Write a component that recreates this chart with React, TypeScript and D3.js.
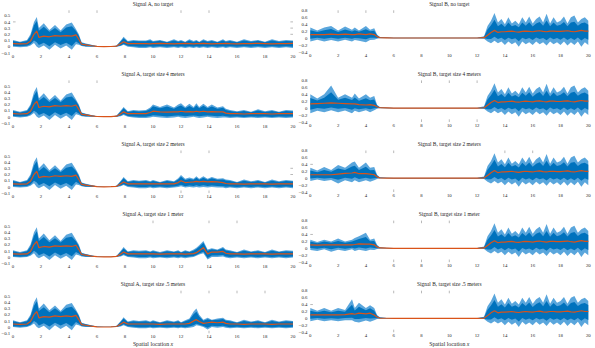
import React from "react";
import * as d3 from "d3";

const W = 595;
const H = 348;

const X_TICKS = [0, 2, 4, 6, 8, 10, 12, 14, 16, 18, 20];
const A_Y_TICKS = [-0.1, 0, 0.1, 0.2, 0.3, 0.4, 0.5];
const B_Y_TICKS = [-0.4, -0.2, 0, 0.2, 0.4, 0.6, 0.8];

const TITLES_A = [
  "Signal A, no target",
  "Signal A, target size 4 meters",
  "Signal A, target size 2 meters",
  "Signal A, target size 1 meter",
  "Signal A, target size .5 meters",
];
const TITLES_B = [
  "Signal B, no target",
  "Signal B, target size 4 meters",
  "Signal B, target size 2 meters",
  "Signal B, target size 1 meter",
  "Signal B, target size .5 meters",
];

// ---- Signal A: shared start (0..9 m)
const A_X_HEAD = [0, 0.5, 1, 1.25, 1.5, 1.7, 1.85, 2.2, 2.6, 3, 3.4, 3.8, 4.2, 4.5, 4.7, 4.9, 5.2, 5.6, 6, 6.5, 7, 7.4, 7.7, 7.9, 8.2, 8.6, 9];
const A_MEAN_HEAD = [0.05, 0.045, 0.05, 0.09, 0.2, 0.25, 0.15, 0.17, 0.16, 0.18, 0.17, 0.18, 0.17, 0.19, 0.12, 0.04, 0.03, 0.015, 0.005, 0.002, 0.003, 0.01, 0.05, 0.08, 0.05, 0.05, 0.05];
const A_HI_HEAD = [0.11, 0.08, 0.11, 0.2, 0.4, 0.48, 0.3, 0.38, 0.27, 0.35, 0.26, 0.36, 0.39, 0.28, 0.2, 0.07, 0.05, 0.03, 0.01, 0.005, 0.005, 0.02, 0.1, 0.16, 0.09, 0.11, 0.1];
const A_LO_HEAD = [0, -0.01, 0, 0.02, 0.06, 0, -0.02, 0.02, -0.05, 0.03, -0.03, 0.02, -0.05, 0.04, 0.03, 0.01, 0, 0, 0, 0, 0, 0, 0.01, 0.03, 0, -0.01, -0.02];

// ---- Signal A: target region (9.5..20 m)
const A_X_TAIL = [9.5, 9.8, 10, 10.5, 11, 11.5, 11.8, 12, 12.3, 12.6, 12.9, 13.1, 13.3, 13.6, 13.9, 14.2, 14.6, 15, 15.2, 15.5, 16, 16.5, 17, 17.5, 18, 18.5, 19, 19.5, 20];

const A0_MEAN_TAIL = [0.05, 0.045, 0.05, 0.055, 0.05, 0.045, 0.05, 0.05, 0.055, 0.05, 0.045, 0.05, 0.05, 0.055, 0.05, 0.045, 0.05, 0.05, 0.055, 0.05, 0.045, 0.05, 0.05, 0.055, 0.05, 0.045, 0.05, 0.05, 0.055];
const A0_HI_TAIL = [0.1, 0.12, 0.09, 0.11, 0.08, 0.12, 0.09, 0.11, 0.08, 0.12, 0.09, 0.11, 0.08, 0.12, 0.09, 0.11, 0.08, 0.12, 0.09, 0.11, 0.08, 0.12, 0.09, 0.11, 0.08, 0.12, 0.09, 0.11, 0.1];
const A0_LO_TAIL = [-0.02, -0.01, -0.02, -0.01, -0.02, -0.01, -0.02, -0.01, -0.02, -0.01, -0.02, -0.01, -0.02, -0.01, -0.02, -0.01, -0.02, -0.01, -0.02, -0.01, -0.02, -0.01, -0.02, -0.01, -0.02, -0.01, -0.02, -0.01, -0.02];

const A1_MEAN_TAIL = [0.05, 0.07, 0.09, 0.08, 0.075, 0.08, 0.08, 0.09, 0.08, 0.085, 0.08, 0.09, 0.08, 0.09, 0.08, 0.085, 0.08, 0.08, 0.06, 0.05, 0.05, 0.045, 0.05, 0.05, 0.05, 0.045, 0.05, 0.05, 0.05];
const A1_HI_TAIL = [0.11, 0.15, 0.2, 0.16, 0.2, 0.15, 0.2, 0.22, 0.16, 0.21, 0.16, 0.22, 0.16, 0.21, 0.16, 0.2, 0.15, 0.17, 0.13, 0.11, 0.09, 0.11, 0.08, 0.12, 0.09, 0.11, 0.08, 0.11, 0.1];
const A1_LO_TAIL = [-0.02, -0.01, 0, -0.01, -0.02, -0.01, 0, -0.01, -0.02, -0.01, 0, -0.01, -0.02, -0.01, 0, -0.01, -0.02, -0.01, -0.01, -0.02, -0.01, -0.02, -0.01, -0.02, -0.01, -0.02, -0.01, -0.02, -0.01];

const A2_MEAN_TAIL = [0.05, 0.05, 0.05, 0.05, 0.05, 0.05, 0.07, 0.1, 0.07, 0.075, 0.08, 0.09, 0.08, 0.09, 0.08, 0.085, 0.08, 0.07, 0.055, 0.05, 0.05, 0.045, 0.05, 0.05, 0.05, 0.045, 0.05, 0.05, 0.05];
const A2_HI_TAIL = [0.11, 0.09, 0.11, 0.08, 0.11, 0.09, 0.14, 0.19, 0.13, 0.15, 0.13, 0.17, 0.13, 0.17, 0.13, 0.16, 0.13, 0.14, 0.12, 0.11, 0.08, 0.12, 0.09, 0.11, 0.08, 0.12, 0.09, 0.11, 0.1];
const A2_LO_TAIL = [-0.02, -0.01, -0.02, -0.01, -0.02, -0.01, 0, 0.01, -0.01, 0, -0.01, 0, -0.01, 0, -0.01, 0, -0.01, -0.01, -0.02, -0.01, -0.02, -0.01, -0.02, -0.01, -0.02, -0.01, -0.02, -0.01, -0.02];

const A3_MEAN_TAIL = [0.05, 0.05, 0.05, 0.045, 0.05, 0.05, 0.05, 0.05, 0.045, 0.05, 0.055, 0.07, 0.1, 0.15, 0.05, 0.08, 0.08, 0.09, 0.06, 0.05, 0.05, 0.045, 0.05, 0.05, 0.05, 0.045, 0.05, 0.05, 0.05];
const A3_HI_TAIL = [0.11, 0.09, 0.11, 0.08, 0.11, 0.09, 0.11, 0.08, 0.11, 0.09, 0.12, 0.15, 0.19, 0.26, 0.12, 0.14, 0.12, 0.16, 0.12, 0.11, 0.08, 0.12, 0.09, 0.11, 0.08, 0.12, 0.09, 0.11, 0.1];
const A3_LO_TAIL = [-0.02, -0.01, -0.02, -0.01, -0.02, -0.01, -0.02, -0.01, -0.02, -0.01, 0, 0.02, 0.04, 0.06, -0.04, 0, 0, 0.01, -0.01, -0.02, -0.01, -0.02, -0.01, -0.02, -0.01, -0.02, -0.01, -0.02, -0.01];

const A4_MEAN_TAIL = [0.05, 0.05, 0.05, 0.045, 0.05, 0.05, 0.05, 0.05, 0.05, 0.06, 0.1, 0.12, 0.09, 0.06, 0.07, 0.08, 0.07, 0.08, 0.06, 0.05, 0.05, 0.045, 0.05, 0.05, 0.05, 0.045, 0.05, 0.05, 0.05];
const A4_HI_TAIL = [0.11, 0.09, 0.11, 0.08, 0.11, 0.09, 0.11, 0.08, 0.11, 0.14, 0.25, 0.3, 0.2, 0.12, 0.15, 0.12, 0.14, 0.15, 0.12, 0.11, 0.08, 0.12, 0.09, 0.11, 0.08, 0.12, 0.09, 0.11, 0.1];
const A4_LO_TAIL = [-0.02, -0.01, -0.02, -0.01, -0.02, -0.01, -0.02, -0.01, -0.02, -0.01, 0, 0.03, 0.02, 0, -0.04, 0, -0.01, 0, -0.01, -0.02, -0.01, -0.02, -0.01, -0.02, -0.01, -0.02, -0.01, -0.02, -0.01];

// ---- Signal B: first segment (0..5 m), per panel
const B_X_HEAD = [0, 0.5, 1, 1.5, 2, 2.5, 3, 3.2, 3.5, 4, 4.3, 4.6, 4.8, 5];
const B0_MEAN_HEAD = [0.1, 0.1, 0.1, 0.11, 0.1, 0.11, 0.1, 0.1, 0.12, 0.1, 0.12, 0.1, 0.04, 0.01];
const B0_HI_HEAD = [0.3, 0.22, 0.3, 0.35, 0.22, 0.33, 0.24, 0.3, 0.22, 0.35, 0.24, 0.28, 0.1, 0.03];
const B0_LO_HEAD = [-0.1, -0.05, -0.1, -0.06, -0.1, -0.05, -0.1, -0.06, -0.08, -0.12, -0.06, -0.05, -0.02, -0.005];
const B1_MEAN_HEAD = [0.12, 0.13, 0.14, 0.15, 0.14, 0.13, 0.12, 0.12, 0.1, 0.09, 0.1, 0.08, 0.04, 0.01];
const B1_HI_HEAD = [0.4, 0.28, 0.4, 0.65, 0.3, 0.4, 0.3, 0.42, 0.28, 0.4, 0.3, 0.35, 0.1, 0.03];
const B1_LO_HEAD = [-0.15, -0.08, -0.12, -0.06, -0.12, -0.07, -0.15, -0.08, -0.12, -0.06, -0.12, -0.06, -0.02, -0.005];
const B2_MEAN_HEAD = [0.1, 0.1, 0.1, 0.1, 0.12, 0.14, 0.15, 0.17, 0.13, 0.13, 0.12, 0.1, 0.04, 0.01];
const B2_HI_HEAD = [0.3, 0.22, 0.32, 0.24, 0.38, 0.3, 0.45, 0.48, 0.3, 0.45, 0.3, 0.32, 0.1, 0.03];
const B2_LO_HEAD = [-0.08, -0.04, -0.08, -0.05, -0.15, -0.06, -0.12, -0.06, -0.12, -0.06, -0.1, -0.06, -0.02, -0.005];
const B3_MEAN_HEAD = [0.1, 0.09, 0.1, 0.1, 0.1, 0.1, 0.1, 0.11, 0.13, 0.12, 0.12, 0.1, 0.04, 0.01];
const B3_HI_HEAD = [0.25, 0.18, 0.25, 0.2, 0.28, 0.2, 0.25, 0.3, 0.35, 0.45, 0.25, 0.28, 0.1, 0.03];
const B3_LO_HEAD = [-0.05, -0.08, -0.03, -0.1, -0.04, -0.08, -0.03, -0.08, -0.04, -0.08, -0.04, -0.05, -0.02, -0.005];
const B4_MEAN_HEAD = [0.1, 0.1, 0.1, 0.1, 0.1, 0.11, 0.14, 0.12, 0.15, 0.13, 0.15, 0.1, 0.04, 0.01];
const B4_HI_HEAD = [0.3, 0.22, 0.3, 0.22, 0.3, 0.24, 0.55, 0.3, 0.45, 0.3, 0.38, 0.3, 0.1, 0.03];
const B4_LO_HEAD = [-0.08, -0.04, -0.08, -0.05, -0.08, -0.05, -0.05, -0.1, -0.12, -0.06, -0.1, -0.05, -0.02, -0.005];

// ---- Signal B: rest (5.5..20 m), shared
const B_X_TAIL = [5.5, 6, 7, 8, 9, 10, 11, 12, 12.5, 12.75, 13, 13.25, 13.5, 13.75, 14, 14.25, 14.5, 14.75, 15, 15.25, 15.5, 15.75, 16, 16.25, 16.5, 16.75, 17, 17.25, 17.5, 17.75, 18, 18.25, 18.5, 18.75, 19, 19.25, 19.5, 19.75, 20];
const B_MEAN_TAIL = [0.005, 0, 0, 0, 0, 0, 0, 0, 0.01, 0.08, 0.16, 0.22, 0.16, 0.18, 0.18, 0.19, 0.2, 0.18, 0.17, 0.19, 0.2, 0.19, 0.18, 0.2, 0.21, 0.19, 0.18, 0.2, 0.2, 0.19, 0.19, 0.2, 0.21, 0.19, 0.18, 0.2, 0.22, 0.2, 0.2];
const B_HI_TAIL = [0.015, 0.01, 0.01, 0.01, 0.01, 0.01, 0.01, 0.01, 0.05, 0.35, 0.5, 0.72, 0.45, 0.55, 0.4, 0.6, 0.42, 0.5, 0.4, 0.6, 0.45, 0.62, 0.42, 0.55, 0.62, 0.45, 0.7, 0.42, 0.6, 0.45, 0.5, 0.62, 0.42, 0.6, 0.65, 0.45, 0.55, 0.6, 0.5];
const B_LO_TAIL = [-0.005, -0.01, -0.01, -0.01, -0.01, -0.01, -0.01, -0.01, -0.02, -0.1, -0.15, -0.08, -0.15, -0.1, -0.2, -0.1, -0.18, -0.12, -0.25, -0.1, -0.18, -0.12, -0.2, -0.1, -0.18, -0.12, -0.22, -0.1, -0.18, -0.12, -0.2, -0.1, -0.22, -0.12, -0.2, -0.1, -0.25, -0.12, -0.2];

// visible residual tick marks per panel
const A_TOP_TICKS = [[4, 6, 12, 14], [4, 6], [12, 14], [10, 14, 16], [12, 14, 16, 18]];
const A_BOT_TICKS = [[], [], [12, 14], [], [14]];
const A_LEFT_TICKS = [[0.4], [], [], [], []];
const A_RIGHT_TICKS = [[0.4, 0.3, 0.2], [], [0.3, 0.2], [], []];
const B_TOP_TICKS = [[2, 4, 6], [8, 10, 12], [4, 6, 14, 16], [6, 8, 10], [6, 8, 10]];
const B_BOT_TICKS = [[], [8, 10, 12], [6], [6, 8, 10], [6]];
const B_LEFT_TICKS = [[], [], [0.4], [0.4], [0.4]];

type Series = { x: number[]; mean: number[]; hi: number[]; lo: number[] };

const A_SERIES: Series[] = [
  [A0_MEAN_TAIL, A0_HI_TAIL, A0_LO_TAIL],
  [A1_MEAN_TAIL, A1_HI_TAIL, A1_LO_TAIL],
  [A2_MEAN_TAIL, A2_HI_TAIL, A2_LO_TAIL],
  [A3_MEAN_TAIL, A3_HI_TAIL, A3_LO_TAIL],
  [A4_MEAN_TAIL, A4_HI_TAIL, A4_LO_TAIL],
].map(([m, h, l]) => ({
  x: A_X_HEAD.concat(A_X_TAIL),
  mean: A_MEAN_HEAD.concat(m),
  hi: A_HI_HEAD.concat(h),
  lo: A_LO_HEAD.concat(l),
}));

const B_SERIES: Series[] = [
  [B0_MEAN_HEAD, B0_HI_HEAD, B0_LO_HEAD],
  [B1_MEAN_HEAD, B1_HI_HEAD, B1_LO_HEAD],
  [B2_MEAN_HEAD, B2_HI_HEAD, B2_LO_HEAD],
  [B3_MEAN_HEAD, B3_HI_HEAD, B3_LO_HEAD],
  [B4_MEAN_HEAD, B4_HI_HEAD, B4_LO_HEAD],
].map(([m, h, l]) => ({
  x: B_X_HEAD.concat(B_X_TAIL),
  mean: m.concat(B_MEAN_TAIL),
  hi: h.concat(B_HI_TAIL),
  lo: l.concat(B_LO_TAIL),
}));

const DARK = "#0072BD";
const LIGHT = "#5aa6dc";
const ORANGE = "#D95319";
const TEXT = "#262626";
const TICKC = "#8a8a8a";
const FONT = "'Liberation Serif', 'DejaVu Serif', serif";
const ROW = 70.1;
const AX_TOP = 10.3;

function fmt(v: number) {
  const s = d3.format("")(Math.round(v * 10) / 10);
  return s.replace("-", "\u2212");
}

type PanelProps = {
  row: number;
  left: boolean;
  series: Series;
  title: string;
  top: number[];
  bot: number[];
  lt: number[];
  rt: number[];
};

function Panel({ row, left, series, title, top, bot, lt, rt }: PanelProps) {
  const off = row * ROW;
  const x0 = left ? 13 : 310.3;
  const x1 = left ? 293 : 588.3;
  const x = d3.scaleLinear().domain([0, 20]).range([x0, x1]);
  const y = left
    ? d3.scaleLinear().domain([0, 0.5]).range([46.7 + off, 15.7 + off])
    : d3.scaleLinear().domain([0, 0.8]).range([38 + off, 10.3 + off]);
  const yTicks = left ? A_Y_TICKS : B_Y_TICKS;
  const bottomPx = left ? y(-0.1) : y(-0.4);
  const topPx = AX_TOP + off;
  const idx = d3.range(series.x.length);
  const k = left ? 0.72 : 0.62;
  const lightArea = d3
    .area<number>()
    .x((i) => x(series.x[i]))
    .y0((i) => y(series.lo[i]))
    .y1((i) => y(series.hi[i]))
    .curve(d3.curveLinear);
  const darkArea = d3
    .area<number>()
    .x((i) => x(series.x[i]))
    .y0((i) => y(series.mean[i] - k * (series.mean[i] - series.lo[i])))
    .y1((i) => y(series.mean[i] + k * (series.hi[i] - series.mean[i])))
    .curve(d3.curveLinear);
  const meanLine = d3
    .line<number>()
    .x((i) => x(series.x[i]))
    .y((i) => y(series.mean[i]));
  const cx = (x0 + x1) / 2;
  return (
    <g>
      <text x={cx} y={5.6 + off} fontSize={5.4} textAnchor="middle" fill={TEXT} fontFamily={FONT}>
        {title}
      </text>
      <path d={lightArea(idx) || ""} fill={LIGHT} />
      <path d={darkArea(idx) || ""} fill={DARK} />
      <path d={meanLine(idx) || ""} fill="none" stroke={ORANGE} strokeWidth={1.2} strokeLinejoin="round" />
      {X_TICKS.map((t) => (
        <text key={"xt" + t} x={x(t)} y={bottomPx + 4.8} fontSize={4.8} textAnchor="middle" fill={TEXT} fontFamily={FONT}>
          {t}
        </text>
      ))}
      {yTicks.map((t) => (
        <text key={"yt" + t} x={x0 - 2.8} y={y(t) + 1.7} fontSize={4.8} textAnchor="end" fill={TEXT} fontFamily={FONT}>
          {fmt(t)}
        </text>
      ))}
      {top.map((t) => (
        <line key={"tt" + t} x1={x(t)} x2={x(t)} y1={topPx} y2={topPx + 2.6} stroke={TICKC} strokeWidth={0.6} />
      ))}
      {bot.map((t) => (
        <line key={"bt" + t} x1={x(t)} x2={x(t)} y1={bottomPx} y2={bottomPx - 2.6} stroke={TICKC} strokeWidth={0.6} />
      ))}
      {lt.map((t) => (
        <line key={"lt" + t} x1={x0} x2={x0 + 2.6} y1={y(t)} y2={y(t)} stroke={TICKC} strokeWidth={0.6} />
      ))}
      {rt.map((t) => (
        <line key={"rt" + t} x1={x1} x2={x1 - 2.6} y1={y(t)} y2={y(t)} stroke={TICKC} strokeWidth={0.6} />
      ))}
    </g>
  );
}

export default function App() {
  return (
    <div style={{ position: "fixed", left: 0, top: 0, width: W, height: H, background: "#fff" }}>
      <svg width={W} height={H} viewBox={`0 0 ${W} ${H}`} style={{ display: "block" }}>
        <rect width={W} height={H} fill="#fff" />
        {A_SERIES.map((s, i) => (
          <Panel key={"a" + i} row={i} left={true} series={s} title={TITLES_A[i]} top={A_TOP_TICKS[i]} bot={A_BOT_TICKS[i]} lt={A_LEFT_TICKS[i]} rt={A_RIGHT_TICKS[i]} />
        ))}
        {B_SERIES.map((s, i) => (
          <Panel key={"b" + i} row={i} left={false} series={s} title={TITLES_B[i]} top={B_TOP_TICKS[i]} bot={B_BOT_TICKS[i]} lt={B_LEFT_TICKS[i]} rt={[]} />
        ))}
        <text x={153} y={345.5} fontSize={5.8} textAnchor="middle" fill={TEXT} fontFamily={FONT}>
          Spatial location <tspan fontStyle="italic">x</tspan>
        </text>
        <text x={449.3} y={345.5} fontSize={5.8} textAnchor="middle" fill={TEXT} fontFamily={FONT}>
          Spatial location <tspan fontStyle="italic">x</tspan>
        </text>
      </svg>
    </div>
  );
}
